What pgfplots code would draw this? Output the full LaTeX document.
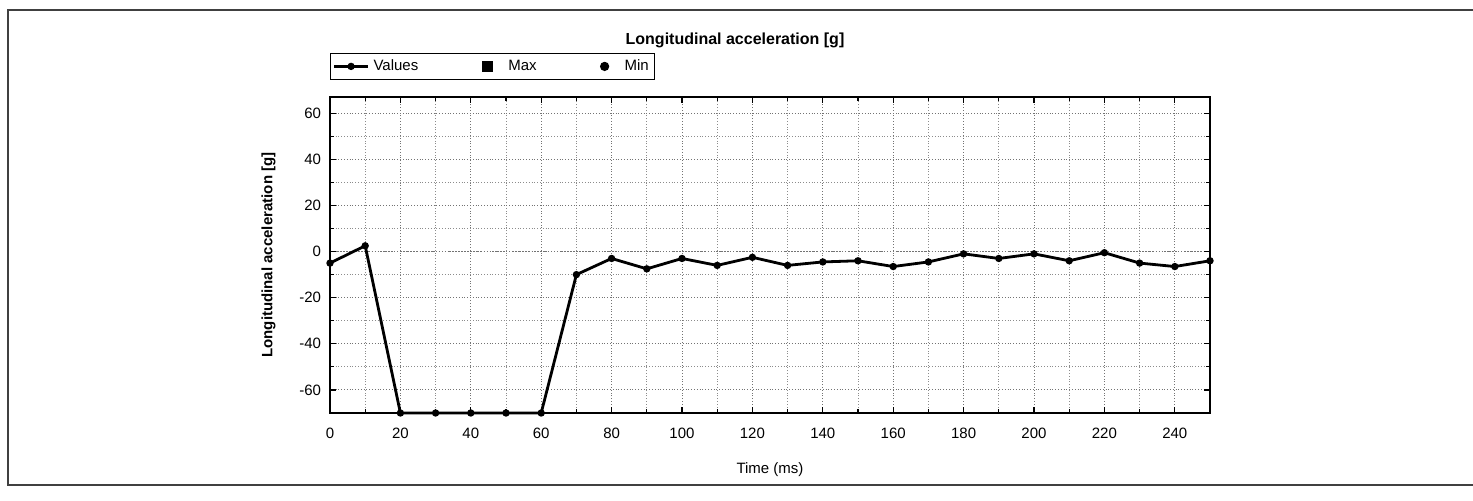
\documentclass[border=0pt]{standalone}
\usepackage{pgfplots}
\pgfplotsset{compat=1.18}
\usepackage{fontspec}
\setmainfont{Liberation Sans}

\pgfplotstableread{
t   acc
0   -5
10  2.5
20  -70
30  -70
40  -70
50  -70
60  -70
70  -10
80  -3
90  -7.5
100 -3
110 -6
120 -2.5
130 -6
140 -4.5
150 -4
160 -6.5
170 -4.5
180 -1
190 -3
200 -1
210 -4
220 -0.5
230 -5
240 -6.5
250 -4
}\accdata

\begin{document}
\begin{tikzpicture}
% page frame (scanned report box)
\useasboundingbox (0pt,0pt) rectangle (736.5pt,250pt);
\draw[line width=0.6pt, black!75] (736.5pt,245pt) -- (4pt,245pt) -- (4pt,7.5pt) -- (736.5pt,7.5pt);
\node[font=\bfseries\fontsize{8}{9}\selectfont] at (367.5pt,230pt) {Longitudinal acceleration [g]};
\begin{axis}[
    at={(165pt,43.5pt)}, anchor=south west,
    scale only axis,
    width=440pt, height=158pt,
    xmin=0, xmax=250,
    ymin=-70, ymax=67,
    xtick={0,20,...,240},
    ytick={-60,-40,...,60},
    minor x tick num=1,
    minor y tick num=1,
    grid=both,
    major grid style={densely dotted, line width=0.5pt, black!55},
    minor grid style={densely dotted, line width=0.5pt, black!45},
    extra y ticks={0},
    extra y tick labels={},
    extra y tick style={grid style={dashdotted, line width=0.6pt, black!60}},
    axis line style={line width=0.8pt},
    tick style={black, line width=0.6pt},
    tick align=inside,
    major tick length=3pt, minor tick length=2pt,
    /pgf/number format/assume math mode=true,
    tick label style={font=\fontsize{7.5}{9}\selectfont},
    xticklabel style={yshift=-4pt},
    yticklabel style={xshift=-1pt},
    xlabel={Time (ms)},
    ylabel={\bfseries Longitudinal acceleration [g]},
    xlabel style={font=\fontsize{7.5}{8}\selectfont, yshift=-5pt},
    ylabel style={font=\fontsize{7.5}{8}\selectfont, yshift=5pt},
    legend columns=3,
    legend style={at={(0,1.054)}, anchor=south west, font=\fontsize{7.5}{8}\selectfont,
        draw=black, line width=0.6pt, inner sep=1pt,
        /tikz/every even column/.append style={column sep=30pt}},
    legend cell align=left,
    clip=false,
]
\addplot[black, line width=1.4pt, mark=*, mark size=1.1pt] table[x=t, y=acc] {\accdata};
\addlegendentry{Values}
\addlegendimage{only marks, mark=square*, mark size=2.5pt, black}
\addlegendentry{\hspace{6pt}Max}
\addlegendimage{only marks, mark=*, mark size=2pt, black}
\addlegendentry{\hspace{6pt}Min}
\end{axis}
\end{tikzpicture}
\end{document}
